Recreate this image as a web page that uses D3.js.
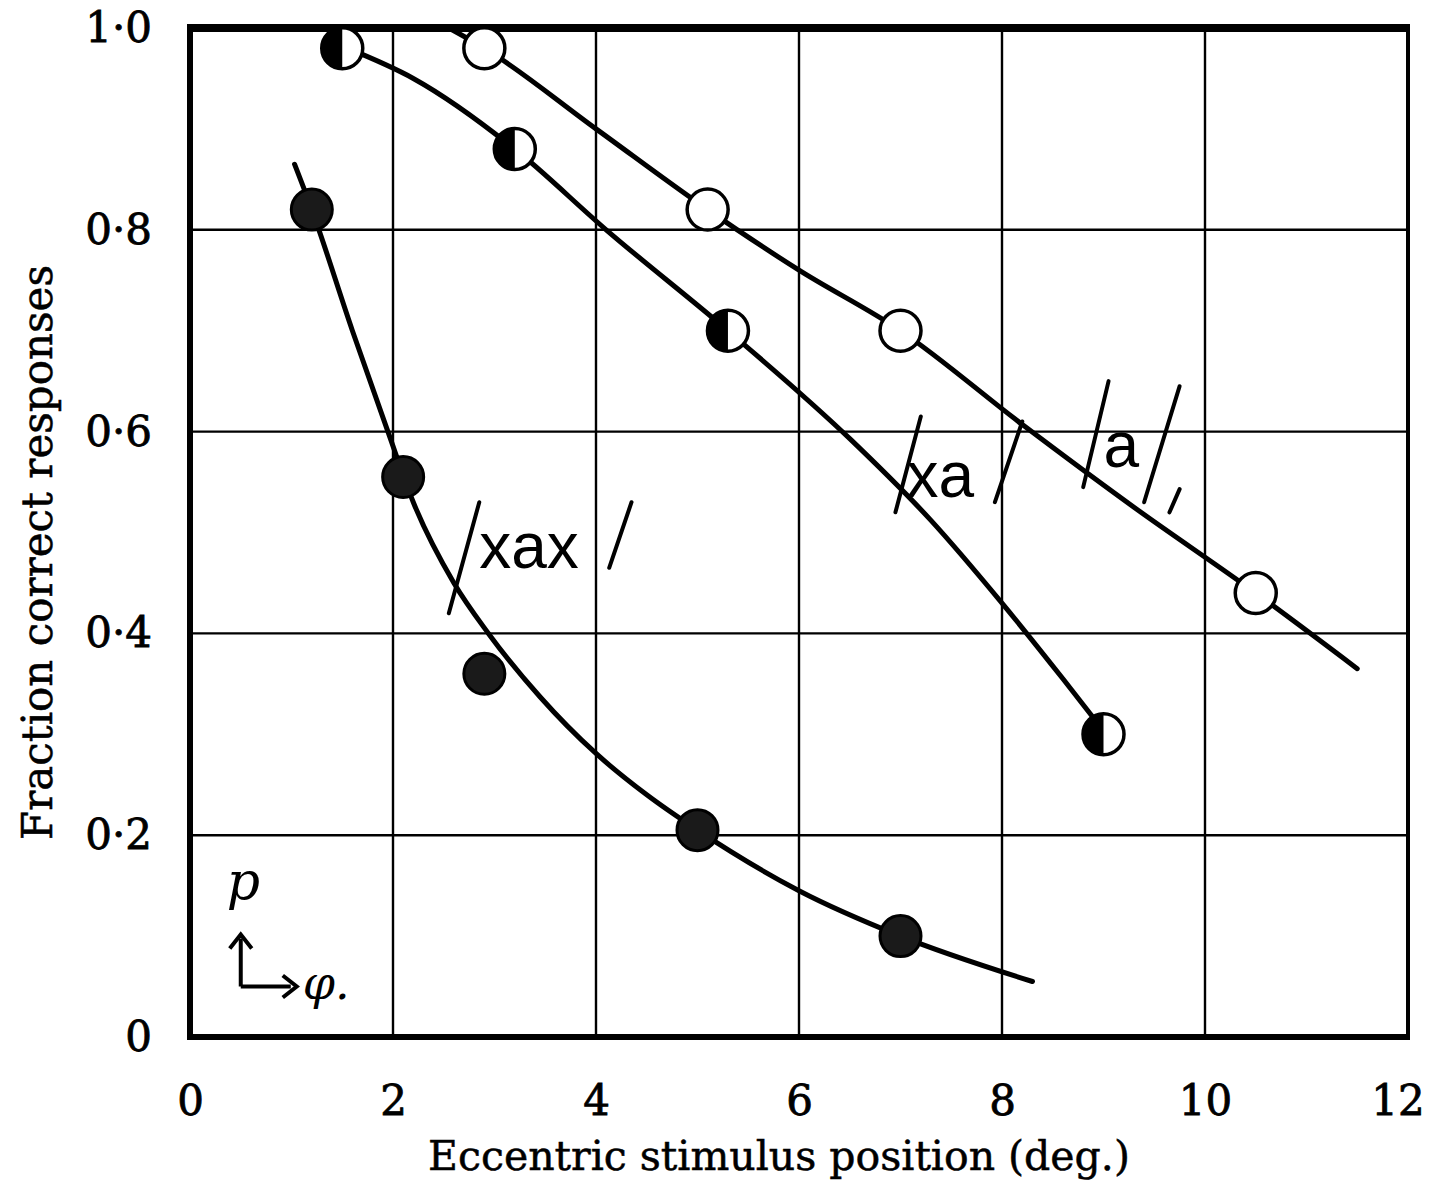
<!DOCTYPE html>
<html>
<head>
<meta charset="utf-8">
<script src="https://cdn.jsdelivr.net/npm/d3@7"></script>
<style>
  html, body { margin: 0; padding: 0; background: #fff; }
  svg { display: block; }
</style>
</head>
<body>
<script>
// ---- data ----
const xTicks = [0, 2, 4, 6, 8, 10, 12];
const yTicks = [0, 0.2, 0.4, 0.6, 0.8, 1.0];

// measured points: eccentricity (deg) vs fraction correct
const seriesA_x   = [2.9, 5.1, 7.0, 10.5];
const seriesA_y   = [0.98, 0.82, 0.70, 0.44];
const seriesXA_x  = [1.5, 3.2, 5.3, 9.0];
const seriesXA_y  = [0.98, 0.88, 0.70, 0.30];
const seriesXAX_x = [1.2, 2.1, 2.9, 5.0, 7.0];
const seriesXAX_y = [0.82, 0.555, 0.36, 0.205, 0.10];

// hand-drawn fitted curves
const curveA_x   = [2.55, 2.9, 4.0, 5.1, 6.0, 7.0, 8.2, 9.3, 10.5, 11.5];
const curveA_y   = [1.0, 0.98, 0.90, 0.82, 0.76, 0.70, 0.607, 0.525, 0.44, 0.365];
const curveXA_x  = [1.55, 2.2, 3.2, 4.1, 5.3, 6.5, 7.3, 8.0, 8.6, 8.95];
const curveXA_y  = [0.98, 0.95, 0.88, 0.80, 0.70, 0.593, 0.512, 0.43, 0.355, 0.31];
const curveXAX_x = [1.03, 1.2, 1.6, 1.95, 2.2, 2.6, 2.94, 3.45, 4.0, 4.5, 5.0, 6.0, 7.0, 8.3];
const curveXAX_y = [0.865, 0.82, 0.70, 0.60, 0.53, 0.45, 0.40, 0.337, 0.281, 0.24, 0.205, 0.145, 0.10, 0.055];

// curve labels (text) and their slash marks, in data units
const labelText = ["xax", "xa", "a"];
const labelX    = [2.85, 7.06, 9.0];
const labelY    = [0.465, 0.535, 0.565];
const slashes = [
  [2.55, 0.42, 2.85, 0.53],
  [4.13, 0.465, 4.35, 0.53],
  [6.95, 0.52, 7.2, 0.615],
  [7.93, 0.53, 8.2, 0.61],
  [8.8, 0.545, 9.05, 0.65],
  [9.4, 0.53, 9.75, 0.645],
  [9.65, 0.52, 9.75, 0.543]
];

// ---- layout ----
const W = 1432, H = 1182;
const svg = d3.select("body").append("svg").attr("width", W).attr("height", H);

const x = d3.scaleLinear().domain([0, 12]).range([190, 1408]);
const y = d3.scaleLinear().domain([0, 1]).range([1037, 28]);

const serif = "'DejaVu Serif', serif";

// grid
const g = svg.append("g");
g.selectAll("line.vg").data(xTicks.filter(d => d > 0 && d < 12)).enter().append("line")
  .attr("x1", d => x(d)).attr("x2", d => x(d))
  .attr("y1", y(1)).attr("y2", y(0))
  .attr("stroke", "#000").attr("stroke-width", 2.4);
g.selectAll("line.hg").data(yTicks.filter(d => d > 0 && d < 1)).enter().append("line")
  .attr("x1", x(0)).attr("x2", x(12))
  .attr("y1", d => y(d)).attr("y2", d => y(d))
  .attr("stroke", "#000").attr("stroke-width", 2.4);

// frame
g.append("line").attr("x1", x(0)).attr("x2", x(12)).attr("y1", y(1)).attr("y2", y(1))
  .attr("stroke", "#000").attr("stroke-width", 8);
g.append("line").attr("x1", x(0)).attr("x2", x(12)).attr("y1", y(0)).attr("y2", y(0))
  .attr("stroke", "#000").attr("stroke-width", 6);
g.append("line").attr("x1", x(0)).attr("x2", x(0)).attr("y1", y(1) - 4).attr("y2", y(0) + 3)
  .attr("stroke", "#000").attr("stroke-width", 6);
g.append("line").attr("x1", x(12)).attr("x2", x(12)).attr("y1", y(1) - 4).attr("y2", y(0) + 3)
  .attr("stroke", "#000").attr("stroke-width", 4);

// axes
const fmt = d => d === 0 ? "0" : d3.format(".1f")(d).replace(".", "·");
const xAxis = svg.append("g").attr("transform", `translate(0,${y(0)})`)
  .call(d3.axisBottom(x).tickValues(xTicks).tickSize(0).tickPadding(48).tickFormat(d3.format("d")));
const yAxis = svg.append("g").attr("transform", `translate(${x(0)},0)`)
  .call(d3.axisLeft(y).tickValues(yTicks).tickSize(0).tickPadding(38).tickFormat(fmt));
[xAxis, yAxis].forEach(a => {
  a.select(".domain").remove();
  a.selectAll("text").attr("font-family", serif).attr("font-size", 42).attr("fill", "#000")
    .attr("stroke", "#000").attr("stroke-width", 0.8);
});
xAxis.selectAll(".tick").filter(d => d === 12).select("text").attr("dx", "-0.25em");

// axis titles
svg.append("text").attr("x", (x(0) + x(12)) / 2 - 20).attr("y", 1170)
  .attr("text-anchor", "middle").attr("font-family", serif).attr("font-size", 41)
  .attr("stroke", "#000").attr("stroke-width", 0.5)
  .text("Eccentric stimulus position (deg.)");
svg.append("text").attr("transform", `translate(52,${(y(0) + y(1)) / 2 + 20}) rotate(-90)`)
  .attr("text-anchor", "middle").attr("font-family", serif).attr("font-size", 42)
  .attr("stroke", "#000").attr("stroke-width", 0.5)
  .text("Fraction correct responses");

// curves
const line = d3.line().x(d => x(d[0])).y(d => y(d[1])).curve(d3.curveMonotoneX);
const curves = [
  d3.zip(curveA_x, curveA_y),
  d3.zip(curveXA_x, curveXA_y),
  d3.zip(curveXAX_x, curveXAX_y)
];
svg.selectAll("path.curve").data(curves).enter().append("path")
  .attr("d", line).attr("fill", "none").attr("stroke", "#000")
  .attr("stroke-width", 5).attr("stroke-linecap", "round");

// markers
const R = 20.5;
// open circles
svg.selectAll("circle.a").data(d3.zip(seriesA_x, seriesA_y)).enter().append("circle")
  .attr("cx", d => x(d[0])).attr("cy", d => y(d[1])).attr("r", R)
  .attr("fill", "#fff").attr("stroke", "#000").attr("stroke-width", 3.5);
// half filled (left half black)
const half = svg.selectAll("g.xa").data(d3.zip(seriesXA_x, seriesXA_y)).enter().append("g")
  .attr("transform", d => `translate(${x(d[0])},${y(d[1])})`);
half.append("circle").attr("r", R).attr("fill", "#fff").attr("stroke", "#000").attr("stroke-width", 3.5);
half.append("path").attr("d", `M0,${-R} A${R},${R} 0 0 0 0,${R} Z`).attr("fill", "#000");
// filled circles
svg.selectAll("circle.xax").data(d3.zip(seriesXAX_x, seriesXAX_y)).enter().append("circle")
  .attr("cx", d => x(d[0])).attr("cy", d => y(d[1])).attr("r", R)
  .attr("fill", "#1a1a1a").attr("stroke", "#000").attr("stroke-width", 3);

// labels
svg.selectAll("text.lab").data(d3.zip(labelText, labelX, labelY)).enter().append("text")
  .attr("x", d => x(d[1])).attr("y", d => y(d[2]))
  .attr("font-family", "'Liberation Sans', Arial, sans-serif").attr("font-size", 64)
  .text(d => d[0]);
svg.selectAll("line.slash").data(slashes).enter().append("line")
  .attr("x1", d => x(d[0])).attr("y1", d => y(d[1]))
  .attr("x2", d => x(d[2])).attr("y2", d => y(d[3]))
  .attr("stroke", "#000").attr("stroke-width", 4).attr("stroke-linecap", "round");

// coordinate key (p up, φ right)
const key = svg.append("g");
const kx = x(0.5), ky = y(0.05);
key.append("path").attr("d", `M${kx},${ky} V${ky - 48} M${kx},${ky} H${kx + 50}`)
  .attr("fill", "none").attr("stroke", "#000").attr("stroke-width", 4);
key.append("path").attr("d", `M${kx - 11},${ky - 38} L${kx},${ky - 52} L${kx + 11},${ky - 38}`)
  .attr("fill", "none").attr("stroke", "#000").attr("stroke-width", 4);
key.append("path").attr("d", `M${kx + 42},${ky - 11} L${kx + 56},${ky} L${kx + 42},${ky + 11}`)
  .attr("fill", "none").attr("stroke", "#000").attr("stroke-width", 4);
key.append("text").attr("x", kx - 14).attr("y", ky - 88)
  .attr("font-family", serif).attr("font-style", "italic").attr("font-size", 52).text("p");
key.append("text").attr("x", kx + 62).attr("y", ky + 12)
  .attr("font-family", serif).attr("font-style", "italic").attr("font-size", 46).text("φ.");
</script>
</body>
</html>
